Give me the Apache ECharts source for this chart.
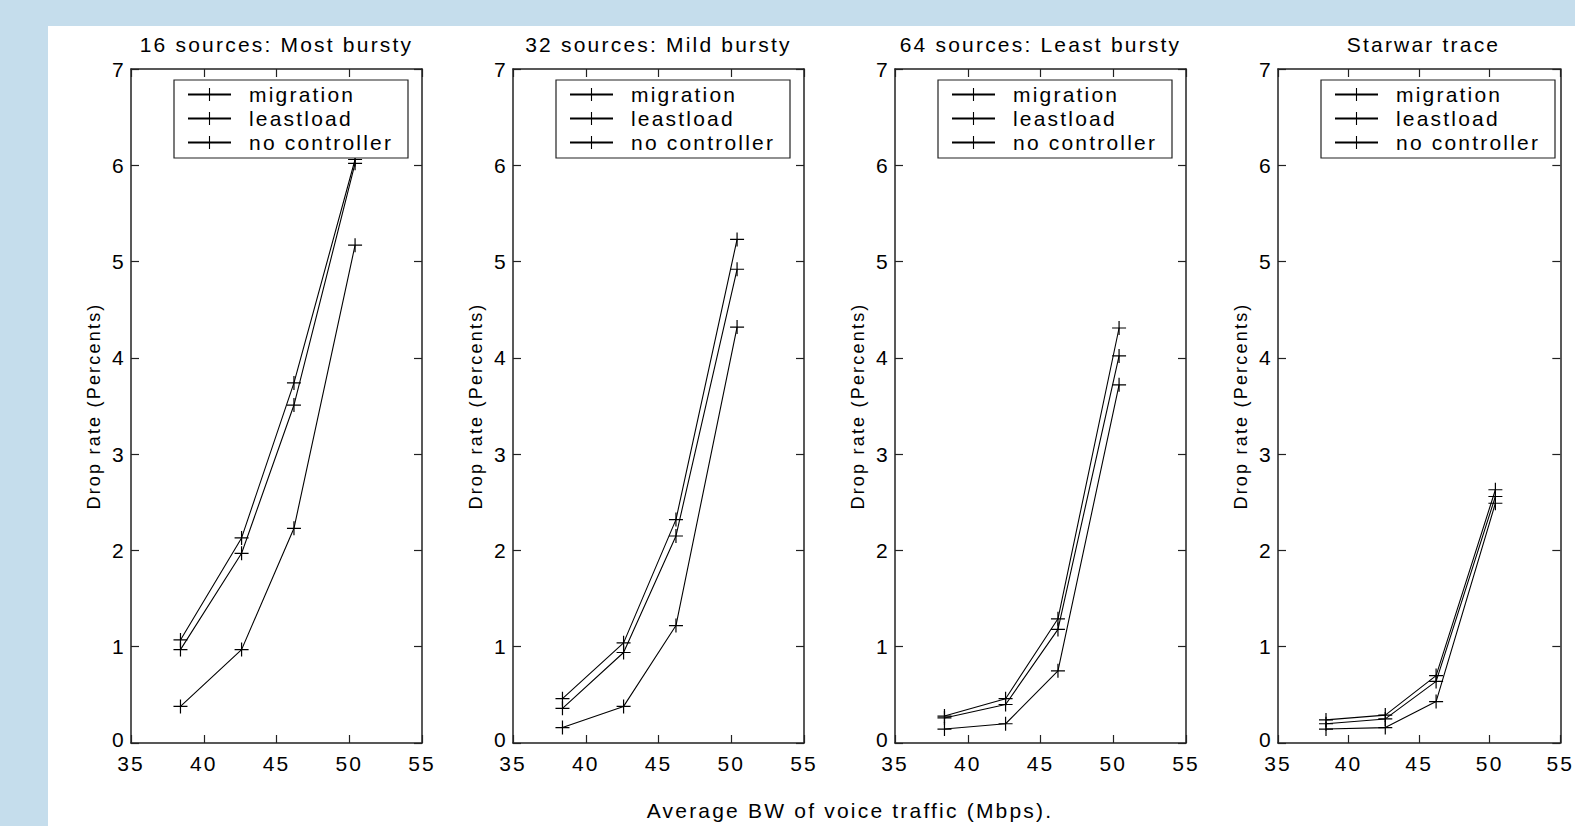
<!DOCTYPE html>
<html>
<head>
<meta charset="utf-8">
<script src="https://cdn.jsdelivr.net/npm/echarts@6/dist/echarts.min.js"></script>
<style>
  html, body { margin: 0; padding: 0; background: #c5ddec; }
  #chart { width: 1575px; height: 826px; }
  /* the original plot font is widely spaced */
  #chart text { letter-spacing: 2.2px; }
</style>
</head>
<body>
<div id="chart"></div>
<script>
const titles = ['16 sources: Most bursty', '32 sources: Mild bursty', '64 sources: Least bursty', 'Starwar trace']
const seriesNames = ['migration', 'leastload', 'no controller']
const xTicks = [35, 40, 45, 50, 55]
const yTicks = [0, 1, 2, 3, 4, 5, 6, 7]
// average BW of voice traffic (Mbps)
const bandwidth = [38.4, 42.6, 46.2, 50.4]
// drop rate (%) per panel
const migration = [
  [0.38, 0.97, 2.23, 5.17],
  [0.16, 0.38, 1.22, 4.32],
  [0.145, 0.20, 0.75, 3.72],
  [0.145, 0.16, 0.43, 2.49]
]
const leastload = [
  [0.97, 1.97, 3.51, 6.02],
  [0.36, 0.94, 2.15, 4.92],
  [0.26, 0.40, 1.18, 4.02],
  [0.20, 0.25, 0.64, 2.56]
]
const noController = [
  [1.07, 2.13, 3.74, 6.06],
  [0.46, 1.04, 2.32, 5.23],
  [0.28, 0.46, 1.29, 4.31],
  [0.24, 0.29, 0.70, 2.63]
]
const xLabel = 'Average BW of voice traffic (Mbps).'
const yLabel = 'Drop rate (Percents)'

const font = 'Liberation Sans, Arial, sans-serif'
const ink = '#000'
const plus = 'path://M0,6.4H14V7.6H0Z M6.4,0H7.6V14H6.4Z'
const gridLeft = [131, 513, 895, 1278]
const gridWidth = 291
const gridTop = 69
const gridHeight = 674

const chart = echarts.init(document.getElementById('chart'), null, { renderer: 'svg' })

const grid = []
const xAxis = []
const yAxis = []
const title = []
const legend = []
const series = []

function axisBase (idx, min, max, interval) {
  return {
    gridIndex: idx,
    type: 'value',
    min: min,
    max: max,
    interval: interval,
    axisLine: { show: true, onZero: false, lineStyle: { color: '#222', width: 1.5 } },
    axisTick: { show: true, inside: true, length: 8, lineStyle: { color: '#222', width: 1.2 } },
    splitLine: { show: false }
  }
}

titles.forEach(function (t, i) {
  grid.push({ left: gridLeft[i], top: gridTop, width: gridWidth, height: gridHeight })

  xAxis.push(Object.assign(axisBase(i, xTicks[0], xTicks[xTicks.length - 1], xTicks[1] - xTicks[0]), {
    position: 'bottom',
    axisLabel: { margin: 12, color: ink, fontFamily: font, fontSize: 21, lineHeight: 16 }
  }))
  xAxis.push(Object.assign(axisBase(i, xTicks[0], xTicks[xTicks.length - 1], xTicks[1] - xTicks[0]), {
    position: 'top',
    axisLabel: { show: false }
  }))
  yAxis.push(Object.assign(axisBase(i, yTicks[0], yTicks[yTicks.length - 1], yTicks[1] - yTicks[0]), {
    position: 'left',
    name: yLabel,
    nameLocation: 'middle',
    nameGap: 28,
    nameTextStyle: { color: ink, fontFamily: font, fontSize: 18 },
    axisLabel: {
      margin: 5,
      color: ink,
      fontFamily: font,
      fontSize: 21,
      lineHeight: 16,
      // lift the "0" a little so it clears the first x label
      formatter: function (v) { return v === yTicks[0] ? '{low|' + v + '}' : String(v) },
      rich: { low: { fontFamily: font, fontSize: 21, color: ink, lineHeight: 16, padding: [0, 0, 8, 0] } }
    }
  }))
  yAxis.push(Object.assign(axisBase(i, yTicks[0], yTicks[yTicks.length - 1], yTicks[1] - yTicks[0]), {
    position: 'right',
    axisLabel: { show: false }
  }))

  title.push({
    text: t,
    left: gridLeft[i] + gridWidth / 2,
    top: 34,
    textAlign: 'center',
    padding: 0,
    textStyle: { color: ink, fontFamily: font, fontSize: 21, fontWeight: 'normal' }
  })

  legend.push({
    data: seriesNames,
    orient: 'vertical',
    left: gridLeft[i] + 43,
    top: 80,
    padding: [4, 8, 5, 13],
    itemGap: 3,
    itemWidth: 43,
    itemHeight: 16,
    borderColor: '#222',
    borderWidth: 1.2,
    backgroundColor: '#fff',
    selectedMode: false,
    textStyle: { color: ink, fontFamily: font, fontSize: 21, lineHeight: 20, width: 151, padding: [0, 0, 0, 13] }
  })

  const values = [migration[i], leastload[i], noController[i]]
  seriesNames.forEach(function (name, k) {
    series.push({
      type: 'line',
      name: name,
      xAxisIndex: i * 2,
      yAxisIndex: i * 2,
      data: bandwidth.map(function (x, j) { return [x, values[k][j]] }),
      symbol: plus,
      symbolSize: 14,
      showSymbol: true,
      lineStyle: { color: '#000', width: 1.1 },
      itemStyle: { color: '#000' },
      emphasis: { disabled: true },
      z: 3
    })
  })
})

title.push({
  text: xLabel,
  left: 850,
  top: 800,
  textAlign: 'center',
  padding: 0,
  textStyle: { color: ink, fontFamily: font, fontSize: 21, fontWeight: 'normal' }
})

chart.setOption({
  backgroundColor: '#c5ddec',
  animation: false,
  graphic: [{
    type: 'rect',
    left: 48,
    top: 26,
    z: -10,
    shape: { width: 1527, height: 800 },
    style: { fill: '#fff' }
  }],
  title: title,
  legend: legend,
  grid: grid,
  xAxis: xAxis,
  yAxis: yAxis,
  series: series
})
</script>
</body>
</html>
